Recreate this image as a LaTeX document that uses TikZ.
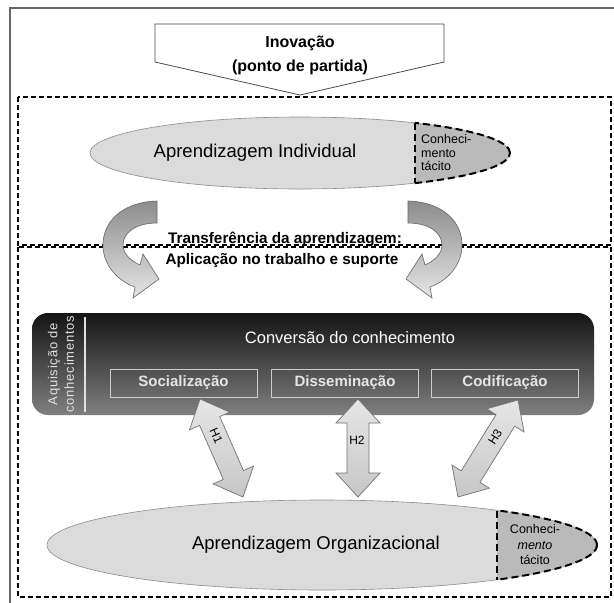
\documentclass[tikz,border=0pt]{standalone}
\usepackage{fontspec}
\setmainfont{Liberation Sans}
\usetikzlibrary{calc,shapes.geometric}
\newcommand\dblarrow[2]{%
 \coordinate (#1-h) at ($(#1)!24pt!(#2)$);
 \coordinate (#2-h) at ($(#2)!24pt!(#1)$);
 \draw[harrow] (#1)
   -- ($(#1-h)!22pt!90:(#2)$) -- ($(#1-h)!11pt!90:(#2)$)
   -- ($(#2-h)!11pt!-90:(#1)$) -- ($(#2-h)!22pt!-90:(#1)$)
   -- (#2)
   -- ($(#2-h)!22pt!90:(#1)$) -- ($(#2-h)!11pt!90:(#1)$)
   -- ($(#1-h)!11pt!-90:(#2)$) -- ($(#1-h)!22pt!-90:(#2)$)
   -- cycle;}
\begin{document}
\begin{tikzpicture}[x=1pt,y=-1pt,
  frame/.style={draw=black!60, line width=1.8pt},
  dashbox/.style={draw=black, line width=1.2pt, dash pattern=on 5pt off 3pt},
  tacit/.style={draw=black, line width=2pt, dash pattern=on 7pt off 4pt},
  pent/.style={draw=black!70, line width=0.8pt, fill=white},
  ellfill/.style={fill=black!14, draw=black!45, line width=0.6pt},
  tacitfill/.style={fill=black!27},
  curvarrow/.style={top color=black!45, bottom color=black!10, draw=black!60, line width=0.6pt},
  harrow/.style={top color=black!10, bottom color=black!22, draw=black!55, line width=0.7pt},
  innerbox/.style={draw=black!20, line width=0.9pt, minimum width=147pt, minimum height=28pt, inner sep=0pt,
     text=black!10, font=\fontsize{15}{17}\selectfont\bfseries},
  darkbox/.style={rounded corners=16pt, top color=black!92, bottom color=black!50, minimum width=562pt, minimum height=102pt},
  bigtxt/.style={font=\fontsize{18.5}{20}\selectfont},
  smalltxt/.style={font=\fontsize{12.5}{13.5}\selectfont, align=left},
  boldtxt/.style={font=\fontsize{15.3}{17}\selectfont\bfseries},
  hlabel/.style={font=\fontsize{12}{14}\selectfont, inner sep=1pt}]
\useasboundingbox (0,0) rectangle (614,603);
\fill[white] (0,0) rectangle (614,603);

% outer frame
\draw[frame] (10,603) -- (10,8) -- (614,8);

% innovation pentagon
\draw[pent] (155,24) -- (444,24) -- (444,62) -- (300,95) -- (155,62) -- cycle;
\node[font=\fontsize{16}{24}\selectfont\bfseries, align=center] (inov) at (300,55) {Inovação\\(ponto de partida)};

% dashed boxes
\draw[dashbox] (18,97) rectangle (611,245);
\draw[dashbox] (18,247) rectangle (611,597);

% individual learning ellipse
\node[ellipse, minimum width=420pt, minimum height=72pt, inner sep=0pt, ellfill] (indiv) at (300,153) {};
\begin{scope}
  \clip (415,100) rectangle (530,200);
  \fill[tacitfill] (300,153) ellipse [x radius=210pt, y radius=36pt];
  \draw[tacit] (300,153) ellipse [x radius=210pt, y radius=36pt];
\end{scope}
\draw[tacit] (415,123) -- (415,183);
\node[bigtxt] (indivtxt) at (255,153) {Aprendizagem Individual};
\node[smalltxt, anchor=west, inner sep=0pt] (tac1) at (421,153) {Conheci-\\mento\\tácito};

% curved arrows
\path[curvarrow] (157,201) .. controls (122,202) and (102,222) .. (103,247)
   .. controls (104,266) and (118,281) .. (135,287) -- (133,298) -- (159,279) -- (143,254)
   -- (140,265) .. controls (131,261) and (123,254) .. (123,245)
   .. controls (123,232) and (137,223) .. (157,223) -- cycle;
\begin{scope}[shift={(565,0)}, xscale=-1]
\path[curvarrow] (157,201) .. controls (122,202) and (102,222) .. (103,247)
   .. controls (104,266) and (118,281) .. (135,287) -- (133,298) -- (159,279) -- (143,254)
   -- (140,265) .. controls (131,261) and (123,254) .. (123,245)
   .. controls (123,232) and (137,223) .. (157,223) -- cycle;
\end{scope}
\node[boldtxt] (transf) at (285,239) {Transferência da aprendizagem:};
\node[boldtxt] (aplic) at (282,261) {Aplicação no trabalho e suporte};

% knowledge conversion box
\node[darkbox] (conv) at (313,364) {};
\draw[black!12, line width=1.2pt] (85,317) -- (85,412);
\node[rotate=90, align=center, text=black!12, font=\fontsize{13}{16.5}\selectfont\addfontfeature{LetterSpace=6}] (aquis) at (61,364) {Aquisição de\\conhecimentos};
\node[text=white, font=\fontsize{16.5}{18}\selectfont] (convtxt) at (350,338) {Conversão do conhecimento};
\node[innerbox] (soc) at (183.5,383) {Socialização};
\node[innerbox] (dis) at (345,383) {Disseminação};
\node[innerbox] (cod) at (505,383) {Codificação};

% organizational learning ellipse
\node[ellipse, minimum width=550pt, minimum height=90pt, inner sep=0pt, ellfill] (org) at (322,545) {};
\begin{scope}
  \clip (497,490) rectangle (610,600);
  \fill[tacitfill] (322,545) ellipse [x radius=275pt, y radius=45pt];
  \draw[tacit] (322,545) ellipse [x radius=275pt, y radius=45pt];
\end{scope}
\draw[tacit] (497,511) -- (497,580);
\node[bigtxt] (orgtxt) at (316,545) {Aprendizagem Organizacional};
\node[font=\fontsize{12.5}{15.5}\selectfont, align=center] (tac2) at (535,545) {Conheci-\\\textit{mento}\\tácito};

% hypothesis arrows
\coordinate (h1a) at (200,399); \coordinate (h1b) at (243,497);
\coordinate (h2a) at (358,399); \coordinate (h2b) at (358,497);
\coordinate (h3a) at (518,400); \coordinate (h3b) at (458,497);
\dblarrow{h1a}{h1b}
\dblarrow{h2a}{h2b}
\dblarrow{h3a}{h3b}
\node[hlabel, rotate=-66] (h1l) at ($(h1a)!0.38!(h1b)$) {H1};
\node[hlabel] (h2l) at (357,440) {H2};
\node[hlabel, rotate=58] (h3l) at ($(h3a)!0.38!(h3b)$) {H3};
\end{tikzpicture}
\end{document}
